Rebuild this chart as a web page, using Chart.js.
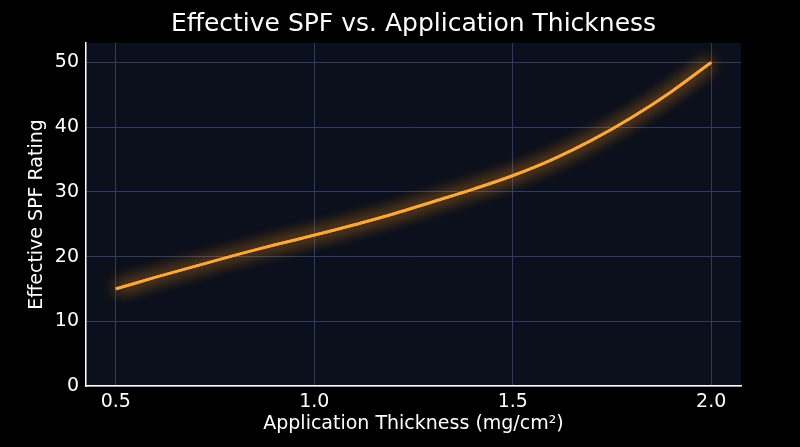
<!DOCTYPE html>
<html>
<head>
<meta charset="utf-8">
<script src="https://cdn.jsdelivr.net/npm/chart.js@4/dist/chart.umd.min.js"></script>
<style>
    body { margin: 0; background: #000; }
    #wrap { width: 800px; height: 447px; }
</style>
</head>
<body>
<div id="wrap"><canvas id="myChart" width="800" height="447"></canvas></div>
<script>
// values
const thickness = [0.5, 0.6, 0.7, 0.8, 0.9, 1.0, 1.1, 1.2, 1.3, 1.4, 1.5, 1.6, 1.7, 1.8, 1.9, 2.0]
const spf = [15.0, 16.8, 18.5, 20.2, 21.8, 23.3, 24.9, 26.6, 28.5, 30.4, 32.5, 35.0, 38.0, 41.5, 45.5, 50.0]
const xTicks = [0.5, 1.0, 1.5, 2.0]
const yTicks = [0, 10, 20, 30, 40, 50]

const ctx = document.getElementById('myChart')
const font = 'DejaVu Sans'
const gridColor = '#313b5c'

// dark plot area + black page
const background = {
    id: 'background',
    beforeDraw: (chart) => {
        const { ctx, chartArea: a } = chart
        ctx.save()
        ctx.fillStyle = '#000'
        ctx.fillRect(0, 0, chart.width, chart.height)
        ctx.fillStyle = '#0b101c'
        ctx.fillRect(a.left, a.top, a.right - a.left, a.bottom - a.top)
        ctx.restore()
    }
}

// soft orange glow round the line (drawn twice for a stronger halo)
const glow = {
    id: 'glow',
    beforeDatasetDraw: (chart) => {
        chart.ctx.save()
        chart.ctx.shadowColor = 'rgba(255, 145, 20, 1)'
        chart.ctx.shadowBlur = 16
    },
    afterDatasetDraw: (chart, args) => {
        args.meta.dataset.draw(chart.ctx, chart.chartArea)
        chart.ctx.restore()
    }
}

const config = {
    type: 'line',
    data: {
        datasets: [
            {
                label: 'Effective SPF',
                data: thickness.map((t, i) => ({ x: t, y: spf[i] })),
                borderColor: '#fba83c',
                borderWidth: 2.8,
                pointRadius: 0,
                tension: 0.4,
                fill: false,
            },
        ],
    },
    options: {
        responsive: false,
        animation: false,
        layout: { padding: { left: 0, right: 59, top: 0, bottom: 0 } },
        plugins: {
            legend: { display: false },
            tooltip: { enabled: false },
            title: {
                display: true,
                fullSize: false,
                text: 'Effective SPF vs. Application Thickness',
                color: '#ffffff',
                font: { family: font, size: 25, weight: 'normal' },
                padding: { top: 9, bottom: 4 },
            },
        },
        scales: {
            x: {
                type: 'linear',
                min: 0.425,
                max: 2.075,
                afterBuildTicks: (scale) => { scale.ticks = xTicks.map((v) => ({ value: v })) },
                afterFit: (scale) => { scale.height = 61 },
                ticks: {
                    color: '#ffffff',
                    font: { family: font, size: 19 },
                    padding: 5,
                    callback: (v) => v.toFixed(1),
                },
                grid: { color: gridColor, lineWidth: 1, drawTicks: false },
                border: { display: true, color: '#ffffff', width: 1.5 },
                title: {
                    display: true,
                    text: 'Application Thickness (mg/cm²)',
                    color: '#ffffff',
                    font: { family: font, size: 19 },
                    padding: { top: 0, bottom: 12 },
                },
            },
            y: {
                min: 0,
                max: 53,
                afterBuildTicks: (scale) => { scale.ticks = yTicks.map((v) => ({ value: v })) },
                afterFit: (scale) => { scale.width = 86 },
                ticks: {
                    color: '#ffffff',
                    font: { family: font, size: 19 },
                    padding: 7,
                },
                grid: { color: gridColor, lineWidth: 1, drawTicks: false },
                border: { display: true, color: '#ffffff', width: 1.5 },
                title: {
                    display: true,
                    text: 'Effective SPF Rating',
                    color: '#ffffff',
                    font: { family: font, size: 19 },
                    padding: { top: 26, bottom: 0 },
                },
            },
        },
    },
    plugins: [background, glow],
}

const myChart = new Chart(ctx, config)
</script>
</body>
</html>
